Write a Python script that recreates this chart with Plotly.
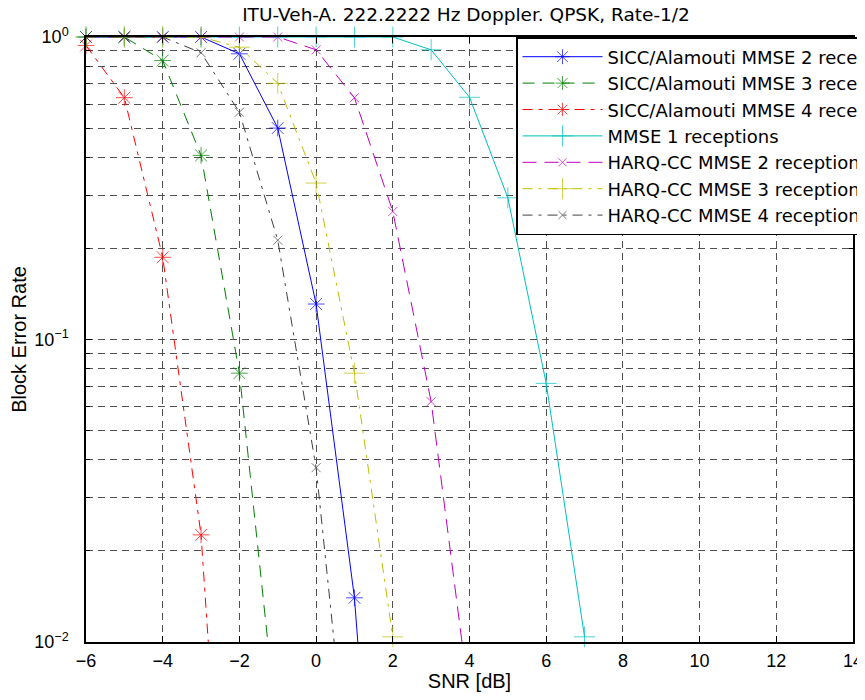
import plotly.graph_objects as go

snr = [-6, -5, -4, -3, -2, -1, 0, 1, 2, 3, 4, 5, 6, 7]

series_names = [
    "SICC/Alamouti MMSE 2 receptions",
    "SICC/Alamouti MMSE 3 receptions",
    "SICC/Alamouti MMSE 4 receptions",
    "MMSE 1 receptions",
    "HARQ-CC MMSE 2 receptions",
    "HARQ-CC MMSE 3 receptions",
    "HARQ-CC MMSE 4 receptions",
]

sicc2 = [1, 1, 1, 1, 0.88, 0.50, 0.131, 0.0140, 0.0003]
sicc3 = [1, 1, 0.836, 0.406, 0.0774, 0.0049]
sicc4 = [0.937, 0.63, 0.187, 0.0226, 0.0003]
mmse1 = [1, 1, 1, 1, 1, 1, 1, 1, 1, 0.907, 0.632, 0.294, 0.0716, 0.0104]
harq2 = [1, 1, 1, 1, 1, 1, 0.907, 0.63, 0.265, 0.0623, 0.0064]
harq3 = [1, 1, 1, 1, 0.925, 0.703, 0.329, 0.0774, 0.0104]
harq4 = [1, 1, 1, 0.887, 0.564, 0.213, 0.0377, 0.00225]

all_vals = [sicc2, sicc3, sicc4, mmse1, harq2, harq3, harq4]
colors = ["#0000FF", "#008000", "#FF0000", "#00BFBF", "#BF00BF", "#BFBF00", "#404040"]
dashes = ["solid", "12px,8px", "10px,6px,4px,6px", "solid", "14px,8px", "10px,6px,3px,6px", "10px,6px,3px,6px"]
symbols = ["asterisk-open", "asterisk-open", "asterisk-open", "cross-thin-open",
           "x-thin-open", "cross-thin-open", "x-thin-open"]
msizes = [14, 14, 14, 15, 9, 15, 9]

fig = go.Figure()
for name, vals, c, d, s, ms in zip(series_names, all_vals, colors, dashes, symbols, msizes):
    xs = snr[:len(vals)]
    sizes = [ms if v >= 0.01 else 0 for v in vals]
    fig.add_trace(go.Scatter(
        x=xs, y=vals, name=name, mode="lines+markers",
        line=dict(color=c, width=1, dash=d),
        marker=dict(symbol=s, size=sizes, color=c, line=dict(color=c, width=1)),
        cliponaxis=False,
    ))

font_title = "DejaVu Sans, Noto Sans CJK JP, sans-serif"
font_ax = "Liberation Sans, Arial, sans-serif"

minor_vals = [k * 0.01 for k in range(2, 10)] + [k * 0.1 for k in range(2, 10)]

# page body has an 8px default margin; figure occupies the window from (8, 8)
W, H = 857, 684
fig.update_layout(
    width=W, height=H,
    paper_bgcolor="white", plot_bgcolor="white",
    margin=dict(l=78, r=12, t=29, b=50, autoexpand=False),
    font=dict(family=font_ax, size=18, color="black"),
    title=dict(text="ITU-Veh-A. 222.2222 Hz Doppler. QPSK, Rate-1/2",
               x=(466 - 8 - 78) / 767, xref="paper", xanchor="center",
               y=1 - 7 / H, yanchor="middle",
               font=dict(size=18.5, family=font_title, color="black")),
    showlegend=True,
    legend=dict(x=(516 - 86) / 767, y=1.0, xanchor="left", yanchor="top",
                bgcolor="white", bordercolor="black", borderwidth=1.5,
                font=dict(size=18, family=font_title, color="black"),
                itemwidth=80, tracegroupgap=0),
)

fig.update_xaxes(
    range=[-6, 14], dtick=2, tick0=-6,
    showline=True, linecolor="black", linewidth=1.5, mirror="ticks",
    ticks="inside", ticklen=6, tickcolor="black",
    showgrid=True, gridcolor="#505050", gridwidth=1, griddash="7px,5px",
    zeroline=False,
    tickfont=dict(size=18, family=font_ax),
    ticklabelstandoff=2,
    title=dict(text="SNR [dB]", font=dict(size=20, family=font_ax), standoff=8),
)

fig.update_yaxes(
    type="log", range=[-2, 0],
    tickvals=[0.01, 0.1, 1], ticktext=["10<sup>−2</sup>", "10<sup>−1</sup>", "10<sup>0</sup>"],
    showline=True, linecolor="black", linewidth=1.5, mirror="ticks",
    ticks="inside", ticklen=6, tickcolor="black",
    showgrid=True, gridcolor="#505050", gridwidth=1, griddash="7px,5px",
    zeroline=False,
    tickfont=dict(size=18, family=font_ax),
    ticklabelstandoff=12,
    minor=dict(tickvals=minor_vals, ticks="inside", ticklen=4, tickcolor="black",
               showgrid=True, gridcolor="#505050", gridwidth=1, griddash="7px,5px"),
    title=dict(text="Block Error Rate", font=dict(size=20, family=font_ax), standoff=14),
)

fig.write_html("out.html")
